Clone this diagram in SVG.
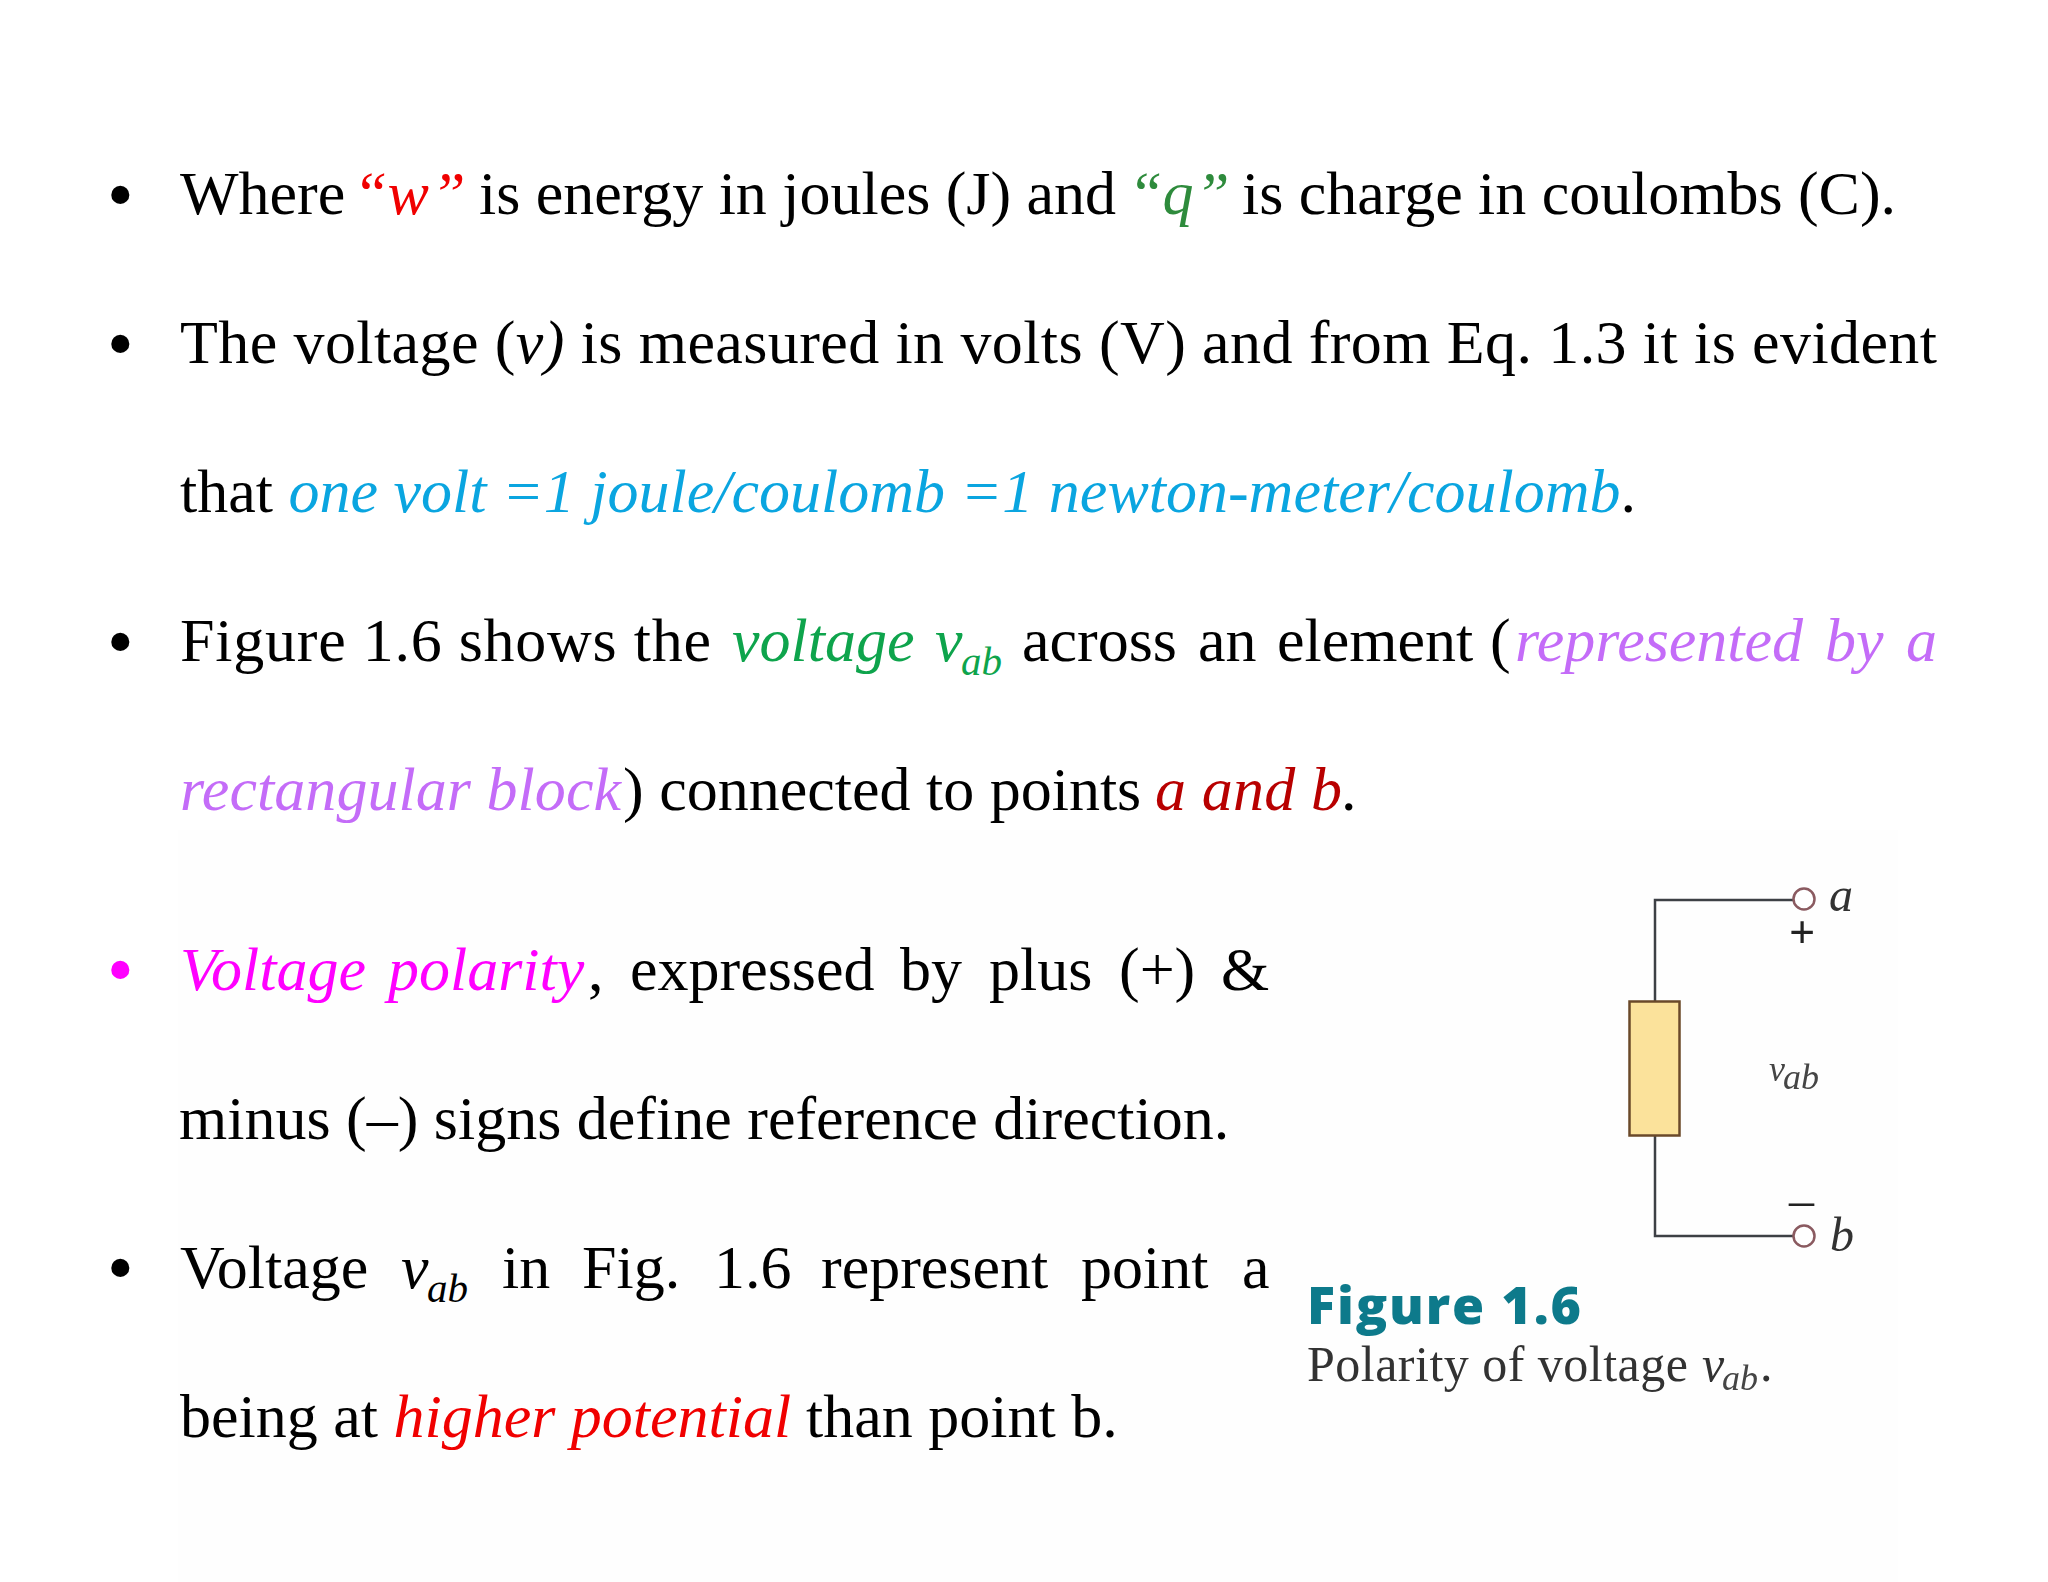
<svg xmlns="http://www.w3.org/2000/svg" width="2048" height="1582" viewBox="0 0 2048 1582">
<defs><filter id="soft" x="-5%" y="-5%" width="110%" height="110%"><feGaussianBlur stdDeviation="0.6"/></filter></defs>
<style>
text{font-family:"Liberation Serif","Times New Roman",serif;font-size:62px}
.i{font-style:italic}
.sub{font-style:italic;font-size:41px}
.bul{font-size:76px}
.red{fill:#f00000}.dkred{fill:#b80000}.grn{fill:#2e8b3c}.vgrn{fill:#0ea44c}.blu{fill:#0aa5e0}.pur{fill:#c46cf8}.mag{fill:#ff00ff}
.wire{fill:none;stroke:#3c4044;stroke-width:2.500}
.term{fill:#fff;stroke:#8a5a60;stroke-width:2.500}
.sym{fill:#333;font-size:48px;font-style:italic}
.pm{fill:#222;font-size:50px}
.vl{fill:#444;font-size:36px;font-style:italic}
.cap{fill:#333;font-size:50px}
</style>
<rect width="2048" height="1582" fill="#fff"/>
<rect x="178" y="830" width="1720" height="752" fill="#fefefe"/>
<g id="text-1">
<text class="bul" x="107" y="220">•</text>
<text x="180" y="214">Where</text>
<text class="i red" x="353" y="214">“w</text><text class="i red" x="431" y="214">”</text>
<text x="479" y="214" textLength="637">is energy in joules (J) and</text>
<text class="i grn" x="1128" y="214">“q</text><text class="i grn" x="1195" y="214">”</text>
<text x="1242" y="214" textLength="654">is charge in coulombs (C).</text>
</g>
<g id="text-2">
<text class="bul" x="107" y="369">•</text>
<text x="180" y="363" textLength="1757">The voltage (<tspan class="i">v)</tspan> is measured in volts (V) and from Eq. 1.3 it is evident</text>
<text x="180" y="512">that <tspan class="i blu">one volt =1 joule/coulomb =1 newton-meter/coulomb</tspan>.</text>
</g>
<g id="text-3">
<text class="bul" x="107" y="667">•</text>
<text x="180" y="661" textLength="531">Figure 1.6 shows the</text>
<text class="i vgrn" x="732" y="661">voltage<tspan x="935">v</tspan></text>
<text class="sub vgrn" x="961" y="675">ab</text>
<text x="1022" y="661">across<tspan x="1198">an</tspan><tspan x="1277">element</tspan><tspan x="1490">(</tspan></text>
<text class="i pur" x="1515" y="661">represented<tspan x="1825">by</tspan><tspan x="1906">a</tspan></text>
<text class="i pur" x="180" y="810" textLength="441">rectangular block</text>
<text x="623" y="810">) connected to points</text>
<text class="i dkred" x="1155" y="810" textLength="187">a and b</text>
<text x="1341" y="810">.</text>
</g>
<g id="text-4">
<text class="bul mag" x="107" y="995">•</text>
<text class="i mag" x="180" y="990">Voltage<tspan x="388">polarity</tspan></text>
<text x="588" y="990">,<tspan x="630">expressed</tspan><tspan x="900">by</tspan><tspan x="989">plus</tspan><tspan x="1119">(+)</tspan><tspan x="1221">&amp;</tspan></text>
<text x="179" y="1139">minus (–) signs define reference direction.</text>
</g>
<g id="text-5">
<text class="bul" x="107" y="1293">•</text>
<text x="180" y="1288">Voltage</text>
<text class="i" x="401" y="1288">v</text>
<text class="sub" x="427" y="1302">ab</text>
<text x="502" y="1288">in<tspan x="582">Fig.</tspan><tspan x="714">1.6</tspan><tspan x="821">represent</tspan><tspan x="1081">point</tspan><tspan x="1242">a</tspan></text>
<text x="180" y="1437">being at <tspan class="i red">higher potential</tspan></text>
<text x="806" y="1437">than point b.</text>
</g>
<g filter="url(#soft)">
<g id="connectors">
<path class="wire" d="M1794 900H1655V1001M1655 1135V1236H1794"/>
</g>
<g id="element">
<rect x="1629.500" y="1001.500" width="50" height="134" fill="#fbe29b" stroke="#6b4a2a" stroke-width="2.500"/>
</g>
<g id="terminal-a">
<circle class="term" cx="1804" cy="899" r="10.500"/>
<text class="sym" x="1829" y="911">a</text>
<text class="pm" x="1789" y="948" font-weight="700" style="font-size:46px">+</text>
</g>
<g id="terminal-b">
<circle class="term" cx="1804" cy="1236" r="10.500"/>
<text class="sym" x="1830" y="1251">b</text>
<text class="pm" x="1789" y="1217">–</text>
</g>
<g id="label-vab">
<text class="vl" x="1769" y="1081">v</text>
<text class="vl" x="1783" y="1089">ab</text>
</g>
<g id="caption">
<text x="1307" y="1324" textLength="274" style="font-family:'Open Sans','Liberation Sans',sans-serif;font-weight:800;font-size:52px;fill:#117a8b">Figure 1.6</text>
<text class="cap" x="1307" y="1381" textLength="381">Polarity of voltage</text>
<text class="cap i" x="1702" y="1381">v</text>
<text class="vl" x="1722" y="1390">ab</text>
<text class="cap" x="1760" y="1381">.</text>
</g>
</g>
</svg>
